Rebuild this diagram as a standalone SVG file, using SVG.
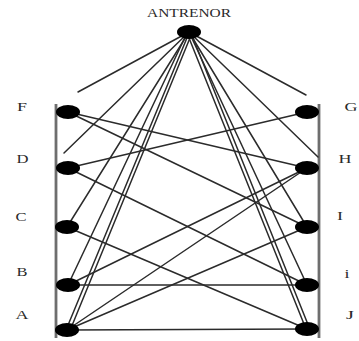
<svg xmlns="http://www.w3.org/2000/svg" width="359" height="341" viewBox="0 0 359 341">
<style>
.bg{fill:#ffffff}
.rail{stroke:#6e6e6e;stroke-width:2.8;fill:none}
.edge{stroke:#2b2b2b;stroke-width:1.5;fill:none;stroke-linecap:round}
.node{fill:#000000}
.lbl{font-family:"Liberation Serif","Times New Roman",serif;font-size:13px;fill:#2a2a2a;text-anchor:middle}
.title{font-family:"Liberation Serif","Times New Roman",serif;font-size:13px;fill:#2a2a2a;text-anchor:middle}
</style>
<rect class="bg" x="0" y="0" width="359" height="341"/>
<g id="rails">
<line class="rail" x1="56" y1="104" x2="56" y2="338"/>
<line class="rail" x1="319" y1="104" x2="319" y2="338"/>
</g>
<g id="connectors">
<line class="edge" x1="189" y1="32" x2="78" y2="92"/>
<line class="edge" x1="189" y1="32" x2="64" y2="153"/>
<line class="edge" x1="189" y1="32" x2="306" y2="95"/>
<line class="edge" x1="189" y1="32" x2="318" y2="157"/>
<line class="edge" x1="189" y1="32" x2="67" y2="227"/>
<line class="edge" x1="187" y1="33" x2="68" y2="285"/>
<line class="edge" x1="189" y1="33" x2="66" y2="330"/>
<line class="edge" x1="192" y1="33" x2="71" y2="328"/>
<line class="edge" x1="189" y1="32" x2="307" y2="227"/>
<line class="edge" x1="189" y1="32" x2="307" y2="285"/>
<line class="edge" x1="187" y1="33" x2="306" y2="329"/>
<line class="edge" x1="191" y1="33" x2="309" y2="327"/>
<line class="edge" x1="68" y1="112" x2="307" y2="168"/>
<line class="edge" x1="68" y1="112" x2="307" y2="227"/>
<line class="edge" x1="68" y1="168" x2="307" y2="112"/>
<line class="edge" x1="68" y1="168" x2="307" y2="285"/>
<line class="edge" x1="67" y1="227" x2="307" y2="329"/>
<line class="edge" x1="68" y1="285" x2="307" y2="168"/>
<line class="edge" x1="68" y1="285" x2="307" y2="285"/>
<line class="edge" x1="67" y1="330" x2="307" y2="168"/>
<line class="edge" x1="67" y1="330" x2="307" y2="227"/>
<line class="edge" x1="67" y1="330" x2="307" y2="329"/>
</g>
<g id="ANTRENOR"><ellipse class="node" cx="189" cy="32" rx="12" ry="7"/><text class="title" x="189" y="17" textLength="84" lengthAdjust="spacingAndGlyphs">ANTRENOR</text></g>
<g id="F"><ellipse class="node" cx="68" cy="112" rx="12" ry="7"/><text class="lbl" x="22" y="111" textLength="10" lengthAdjust="spacingAndGlyphs">F</text></g>
<g id="D"><ellipse class="node" cx="68" cy="168" rx="12" ry="7"/><text class="lbl" x="22.5" y="163" textLength="12" lengthAdjust="spacingAndGlyphs">D</text></g>
<g id="C"><ellipse class="node" cx="67" cy="227" rx="12" ry="7"/><text class="lbl" x="21" y="221" textLength="11" lengthAdjust="spacingAndGlyphs">C</text></g>
<g id="B"><ellipse class="node" cx="68" cy="285" rx="12" ry="7"/><text class="lbl" x="22" y="276" textLength="11" lengthAdjust="spacingAndGlyphs">B</text></g>
<g id="A"><ellipse class="node" cx="67" cy="330" rx="12" ry="7"/><text class="lbl" x="22" y="319" textLength="13" lengthAdjust="spacingAndGlyphs">A</text></g>
<g id="G"><ellipse class="node" cx="307" cy="112" rx="12" ry="7"/><text class="lbl" x="351" y="111" textLength="13" lengthAdjust="spacingAndGlyphs">G</text></g>
<g id="H"><ellipse class="node" cx="307" cy="168" rx="12" ry="7"/><text class="lbl" x="345" y="163" textLength="13" lengthAdjust="spacingAndGlyphs">H</text></g>
<g id="I"><ellipse class="node" cx="307" cy="227" rx="12" ry="7"/><text class="lbl" x="340" y="220" textLength="6" lengthAdjust="spacingAndGlyphs">I</text></g>
<g id="i"><ellipse class="node" cx="307" cy="285" rx="12" ry="7"/><text class="lbl" x="347" y="278" textLength="5" lengthAdjust="spacingAndGlyphs">i</text></g>
<g id="J"><ellipse class="node" cx="307" cy="329" rx="12" ry="7"/><text class="lbl" x="350" y="319" textLength="8" lengthAdjust="spacingAndGlyphs">J</text></g>
</svg>
